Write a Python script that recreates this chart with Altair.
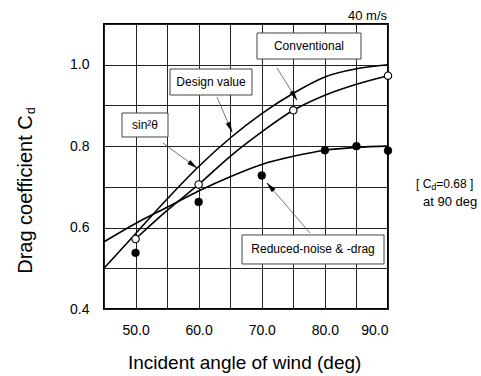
import math
import altair as alt
import pandas as pd

# ---------------- data ----------------
sin_angle = [45, 50, 55, 60, 65, 70, 75, 80, 85, 90]
sin_cd = [0.50, 0.585, 0.67, 0.75, 0.82, 0.88, 0.93, 0.97, 0.99, 1.0]

conv_angle = [50, 55, 60, 65, 70, 75, 80, 85, 90]
conv_cd = [0.572, 0.642, 0.706, 0.775, 0.835, 0.888, 0.925, 0.952, 0.973]

red_angle = [45, 50, 55, 60, 65, 70, 75, 80, 85, 90]
red_cd = [0.565, 0.61, 0.65, 0.69, 0.725, 0.755, 0.775, 0.79, 0.797, 0.80]

conv_pt_angle = [50, 60, 75, 90]
conv_pt_cd = [0.572, 0.706, 0.888, 0.973]

red_pt_angle = [50, 60, 70, 80, 85, 90]
red_pt_cd = [0.538, 0.663, 0.728, 0.79, 0.80, 0.789]

x_grid = [45, 50, 55, 60, 65, 70, 75, 80, 85, 90]
y_grid = [0.4, 0.5, 0.6, 0.7, 0.8, 0.9, 1.0, 1.1]

# annotation boxes (data units)
box_text = ["Conventional", "Design value", "sin²θ", "Reduced-noise & -drag"]
box_x1 = [69.24, 55.46, 47.85, 66.87]
box_x2 = [85.72, 68.45, 55.14, 89.37]
box_y1 = [1.0779, 0.9895, 0.8814, 0.5818]
box_y2 = [1.014, 0.9256, 0.8225, 0.5106]

# arrows (from box to curve)
arr_x1 = [72.41, 62.9, 54.35, 77.64]
arr_y1 = [0.992, 0.9207, 0.8077, 0.5867]
arr_x2 = [75.58, 65.28, 59.74, 70.83]
arr_y2 = [0.913, 0.8348, 0.7463, 0.7095]

# ---------------- geometry ----------------
X_DOM = [45, 90]
Y_DOM = [0.4, 1.1]
W, H = 284, 285
LEFT, TOP = 104, 24

xs = alt.Scale(domain=X_DOM, nice=False, zero=False)
ys = alt.Scale(domain=Y_DOM, nice=False, zero=False)


def to_px(x, y):
    return ((x - X_DOM[0]) / (X_DOM[1] - X_DOM[0]) * W,
            (Y_DOM[1] - y) / (Y_DOM[1] - Y_DOM[0]) * H)


def to_data(px, py):
    return (X_DOM[0] + px / W * (X_DOM[1] - X_DOM[0]),
            Y_DOM[1] - py / H * (Y_DOM[1] - Y_DOM[0]))


# arrowheads
HEAD_LEN = 10
head_rows = []
for a, b, c, d in zip(arr_x1, arr_y1, arr_x2, arr_y2):
    p1 = to_px(a, b)
    p2 = to_px(c, d)
    dx, dy = p2[0] - p1[0], p2[1] - p1[1]
    n = math.hypot(dx, dy)
    ux, uy = dx / n, dy / n
    cx, cy = p2[0] - ux * HEAD_LEN / 2, p2[1] - uy * HEAD_LEN / 2
    hx, hy = to_data(cx, cy)
    ang = math.degrees(math.atan2(dx, -dy)) % 360
    head_rows.append({"x": hx, "y": hy, "ang": ang})

df_sin = pd.DataFrame({"x": sin_angle, "y": sin_cd})
df_conv = pd.DataFrame({"x": conv_angle, "y": conv_cd})
df_red = pd.DataFrame({"x": red_angle, "y": red_cd})
df_cpt = pd.DataFrame({"x": conv_pt_angle, "y": conv_pt_cd})
df_rpt = pd.DataFrame({"x": red_pt_angle, "y": red_pt_cd})
df_box = pd.DataFrame({"t": box_text, "x": box_x1, "x2": box_x2, "y": box_y1, "y2": box_y2})
df_box["cx"] = (df_box["x"] + df_box["x2"]) / 2
df_box["cy"] = (df_box["y"] + df_box["y2"]) / 2
df_arr = pd.DataFrame({"x": arr_x1, "y": arr_y1, "x2": arr_x2, "y2": arr_y2})
df_head = pd.DataFrame(head_rows)

FONT = "Liberation Sans"

axis_x = alt.Axis(values=x_grid, title=None, grid=True, ticks=False, domain=False,
                  labelExpr="datum.value % 10 === 0 ? format(datum.value, '.1f') : ''",
                  labelFontSize=14, labelPadding=14, labelColor="#000", labelFont=FONT,
                  gridColor="#222", gridWidth=1, gridOpacity=1)
axis_y = alt.Axis(values=y_grid, title=None, grid=True, ticks=False, domain=False,
                  labelExpr="round(datum.value * 10) % 2 === 0 ? format(datum.value, '.1f') : ''",
                  labelFontSize=14, labelPadding=15, labelColor="#000", labelFont=FONT,
                  gridColor="#222", gridWidth=1, gridOpacity=1)


def X(f="x"):
    return alt.X(f"{f}:Q", scale=xs, axis=axis_x)


def Y(f="y"):
    return alt.Y(f"{f}:Q", scale=ys, axis=axis_y)


line_style = dict(color="#000", strokeWidth=1.6, interpolate="monotone")
l_sin = alt.Chart(df_sin).mark_line(**line_style).encode(x=X(), y=Y())
l_conv = alt.Chart(df_conv).mark_line(**line_style).encode(x=X(), y=Y())
l_red = alt.Chart(df_red).mark_line(**line_style).encode(x=X(), y=Y())

p_conv = alt.Chart(df_cpt).mark_point(shape="circle", filled=True, fill="#fff", stroke="#000",
                                      strokeWidth=1.1, size=55, opacity=1).encode(x=X(), y=Y())
p_red = alt.Chart(df_rpt).mark_point(shape="circle", filled=True, fill="#000", stroke="#000",
                                     strokeWidth=0.5, size=62, opacity=1).encode(x=X(), y=Y())

arrows = alt.Chart(df_arr).mark_rule(color="#555", strokeWidth=0.8).encode(
    x=X(), y=Y(), x2="x2:Q", y2="y2:Q")
heads = alt.Chart(df_head).mark_point(shape="M0,-1L0.45,1L-0.45,1Z", filled=True, fill="#000",
                                      stroke="#000", strokeWidth=0.3, size=HEAD_LEN ** 2,
                                      opacity=1).encode(
    x=X(), y=Y(), angle=alt.Angle("ang:Q", scale=None))

boxes = alt.Chart(df_box).mark_rect(fill="#fff", stroke="#444", strokeWidth=1).encode(
    x=X(), x2="x2:Q", y=Y(), y2="y2:Q")
box_labels = alt.Chart(df_box).mark_text(font=FONT, fontSize=12, color="#000",
                                         baseline="middle", align="center").encode(
    x=X("cx"), y=Y("cy"), text="t:N")

# outer texts (data units)
txt_rows = [
    {"t": "40 m/s", "x": 89.84, "y": 1.1086, "size": 13, "align": "right", "ang": 0},
    {"t": "[ C", "x": 94.44, "y": 0.6972, "size": 12, "align": "left", "ang": 0},
    {"t": "d", "x": 96.87, "y": 0.6911, "size": 9, "align": "left", "ang": 0},
    {"t": "=0.68 ]", "x": 97.64, "y": 0.6972, "size": 12, "align": "left", "ang": 0},
    {"t": "at 90 deg", "x": 95.55, "y": 0.653, "size": 13, "align": "left", "ang": 0},
    {"t": "Incident angle of wind (deg)", "x": 67.29, "y": 0.2525, "size": 19, "align": "center", "ang": 0},
    {"t": "Drag coefficient C", "x": 33.64, "y": 0.876, "size": 20, "align": "right", "ang": 270},
    {"t": "d", "x": 34.0, "y": 0.879, "size": 12, "align": "left", "ang": 270},
]
layers_txt = []
for r in txt_rows:
    d = pd.DataFrame({"x": [r["x"]], "y": [r["y"]], "t": [r["t"]]})
    layers_txt.append(
        alt.Chart(d).mark_text(font=FONT, fontSize=r["size"], align=r["align"],
                               baseline="alphabetic", angle=r["ang"], color="#000").encode(
            x=X(), y=Y(), text="t:N")
    )

chart = alt.layer(l_sin, l_conv, l_red, arrows, heads, p_conv, p_red,
                  boxes, box_labels, *layers_txt).properties(
    width=W, height=H,
    autosize=alt.AutoSizeParams(type="none"),
    padding={"left": LEFT, "top": TOP, "right": 481 - LEFT - W, "bottom": 376 - TOP - H},
    background="#fff",
).configure_view(stroke="#000", strokeWidth=2)

chart.save("out.html", embed_options={"renderer": "svg", "actions": False})
